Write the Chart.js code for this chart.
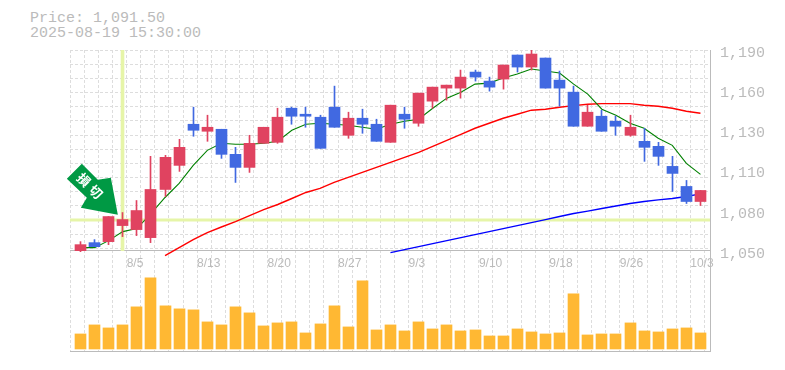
<!DOCTYPE html>
<html>
<head>
<meta charset="utf-8">
<title>Price chart</title>
<script src="https://cdn.jsdelivr.net/npm/chart.js@4"></script>
<style>
  html, body { margin: 0; padding: 0; background: #fff; }
  #wrap { position: relative; width: 785px; height: 370px; overflow: hidden; }
  #head { position: absolute; left: 30px; top: 11px; font: 15px/15px "Liberation Mono", monospace; color: #bbb; white-space: pre; }
  canvas { position: absolute; left: 0; top: 0; }
</style>
</head>
<body>
<div id="wrap">
  <div id="head">Price: 1,091.50
2025-08-19 15:30:00</div>
  <canvas id="chart" width="785" height="370"></canvas>
</div>
<script>
// Values
const opens = [1050, 1055.6, 1056.3, 1067.5, 1064.7, 1059.1, 1092.7, 1109.5, 1138.2, 1133.3, 1134.7, 1117.2, 1108.1, 1124.9, 1125.6, 1149.4, 1145.2, 1143.1, 1150.1, 1130.5, 1142.4, 1138.2, 1125.6, 1145.2, 1138.9, 1154.3, 1163.4, 1163.4, 1174.6, 1168.3, 1169.7, 1186.5, 1178.1, 1184.4, 1169, 1160.6, 1136.8, 1143.8, 1140.3, 1130.5, 1126.3, 1122.8, 1108.8, 1094.8, 1084.3];
const closes = [1054.2, 1052.8, 1073.8, 1071.7, 1078, 1092.7, 1115.1, 1122.1, 1134, 1136.1, 1117.2, 1108.1, 1124.9, 1136.1, 1143.1, 1143.8, 1143.8, 1121.4, 1136.1, 1142.4, 1138.2, 1126.3, 1151.5, 1141.7, 1159.9, 1164.1, 1165.5, 1171.1, 1171.1, 1164.1, 1179.5, 1178.1, 1187.2, 1163.4, 1163.4, 1136.8, 1146.6, 1133.3, 1136.8, 1136.1, 1122.1, 1115.8, 1103.9, 1084.3, 1092];
const highs = [1056.3, 1057.7, 1073.8, 1076.6, 1085, 1115.8, 1116.5, 1127.7, 1150.1, 1144.5, 1134.7, 1122.1, 1130.5, 1136.1, 1149.4, 1150.1, 1150.1, 1144.5, 1164.8, 1146.6, 1148.7, 1141.7, 1151.5, 1150.1, 1159.9, 1164.1, 1165.5, 1176, 1176, 1171.1, 1179.5, 1186.5, 1190, 1184.4, 1175.3, 1164.8, 1151.5, 1148, 1143.8, 1144.5, 1135.4, 1125.6, 1115.8, 1099, 1092];
const lows = [1049.3, 1052.8, 1054.2, 1059.8, 1060.5, 1055.6, 1087.8, 1105.3, 1129.8, 1126.3, 1114.4, 1097.6, 1104.6, 1124.9, 1124.9, 1138.2, 1136.1, 1121.4, 1136.1, 1128.4, 1131.9, 1126.3, 1125.6, 1135.4, 1136.8, 1149.4, 1155, 1156.4, 1168.3, 1161.3, 1162.7, 1174.6, 1176, 1163.4, 1150.8, 1136.8, 1136.8, 1133.3, 1130.5, 1129.8, 1112.3, 1109.5, 1091.3, 1082.9, 1081.5];
const volumes = [1500, 2400, 2100, 2400, 4200, 7100, 4300, 4000, 3900, 2700, 2400, 4200, 3600, 2300, 2600, 2700, 1600, 2500, 4300, 2200, 6800, 1900, 2400, 1800, 2700, 2000, 2400, 1800, 1900, 1300, 1300, 2000, 1700, 1500, 1600, 5500, 1400, 1500, 1500, 2600, 1800, 1700, 2000, 2100, 1600];
const maShort = [1052.1, 1052.1, 1057, 1063.3, 1065.4, 1075.9, 1087.1, 1096.9, 1109.5, 1120, 1124.9, 1124.2, 1124.2, 1124.9, 1126.3, 1134, 1138.2, 1138.9, 1138.2, 1137.5, 1136.1, 1134.7, 1138.2, 1140.3, 1141.7, 1149.4, 1156.4, 1160.6, 1166.2, 1166.9, 1170.4, 1173.2, 1176.7, 1175.3, 1173.9, 1166.2, 1159.2, 1148.7, 1144.5, 1138.9, 1135.4, 1128.4, 1123.5, 1110.9, 1103.2];
const maMid = [null, null, null, null, null, null, 1046.5, 1052.1, 1057.7, 1062.6, 1066.5, 1070.3, 1074.5, 1078.7, 1082.2, 1086.4, 1090.6, 1093.4, 1097.6, 1101.1, 1104.6, 1108.1, 1111.6, 1115.1, 1118.6, 1122.8, 1127, 1131.2, 1135.4, 1138.9, 1142.4, 1145.2, 1148, 1148.7, 1150.1, 1151.2, 1152.2, 1152.6, 1152.6, 1152.6, 1151.5, 1150.8, 1149.4, 1147.3, 1145.9];
const maLong = [null, null, null, null, null, null, null, null, null, null, null, null, null, null, null, null, null, null, null, null, null, null, 1048.6, 1050.7, 1052.8, 1054.9, 1057, 1059.1, 1061.2, 1063.3, 1065.4, 1067.5, 1069.6, 1071.7, 1073.8, 1075.9, 1077.6, 1079.4, 1081.2, 1082.9, 1084.3, 1085.4, 1086.4, 1087.8, 1089.6];

const dateLabels = ['8/5', '8/13', '8/20', '8/27', '9/3', '9/10', '9/18', '9/26', '10/3'];
const gridPrices = [1189.8, 1179.9, 1170.1, 1160.2, 1150.3, 1140.5, 1130.6, 1120.8, 1110.9, 1101, 1091.2, 1081.3, 1071.5, 1061.6, 1051.7];
const priceTicks = [1190, 1162, 1134, 1106, 1078, 1050];
const priceTickLabels = ['1,190', '1,160', '1,130', '1,110', '1,080', '1,050'];

const crossIndex = 3;
const crossPrice = 1071.35;
const arrowIndex = 2.65;
const arrowPrice = 1075;

const UP = '#e04360';
const DOWN = '#4169e1';
const VOL = '#ffb833';
const CROSS = '#e6f5a8';
const GRID = '#dddddd';
const AXIS = '#bbbbbb';
const TEXT = '#bbbbbb';
const DASH = [3, 2];

// x runs over candle indexes, y covers both the price part and the volume part
const xMin = -0.745, xMax = 44.677;
const priceMin = 980, priceMax = 1190;
const volMin = -200, volMax = 29800;
const LABEL_DROP = 2.1; // price labels sit 3px under their value

const idx = opens.map((_, i) => i);
const pts = arr => arr.map((v, i) => ({ x: i, y: v }));

// bars land on whole pixels like the reference
const snapBars = {
  id: 'snapBars',
  afterDatasetsUpdate(chart) {
    chart.data.datasets.forEach((ds, i) => {
      if (ds.type !== 'bar') return;
      chart.getDatasetMeta(i).data.forEach(el => { el.x = Math.round(el.x - 0.5) + 0.5; });
    });
  }
};

// green arrow pointing at the marked candle
const arrowMark = {
  id: 'arrowMark',
  afterDatasetsDraw(chart) {
    const tx = chart.scales.x.getPixelForValue(arrowIndex);
    const ty = chart.scales.y.getPixelForValue(arrowPrice);
    const shape = [[0, 0], [-7, -37], [-20, -35], [-36, -51], [-51, -36], [-31, -17], [-37, -7]];
    const ctx = chart.ctx;
    ctx.save();
    ctx.translate(tx, ty);
    ctx.fillStyle = '#009944';
    ctx.beginPath();
    shape.forEach((p, i) => (i ? ctx.lineTo(p[0], p[1]) : ctx.moveTo(p[0], p[1])));
    ctx.closePath();
    ctx.fill();
    ctx.translate(-28, -29);
    ctx.rotate(Math.PI / 4);
    ctx.fillStyle = '#fff';
    ctx.font = 'bold 13px "Noto Sans CJK JP"';
    ctx.letterSpacing = '4px';
    ctx.textAlign = 'center';
    ctx.textBaseline = 'middle';
    ctx.fillText('損切', 2, 0);
    ctx.restore();
  }
};

new Chart(document.getElementById('chart'), {
  data: {
    datasets: [
      // candles
      { type: 'bar', data: idx.map(i => ({ x: i, y: [opens[i], closes[i]] })), yAxisID: 'y',
        backgroundColor: idx.map(i => (closes[i] >= opens[i] ? UP : DOWN)), barThickness: 11, grouped: false, order: 1 },
      { type: 'bar', data: idx.map(i => ({ x: i, y: [lows[i], highs[i]] })), yAxisID: 'y',
        backgroundColor: idx.map(i => (closes[i] >= opens[i] ? UP : DOWN)), barThickness: 1, grouped: false, order: 2 },
      // moving averages
      { type: 'line', data: pts(maShort), yAxisID: 'y', borderColor: '#008000', borderWidth: 1.1, pointRadius: 0, order: 3 },
      { type: 'line', data: pts(maMid), yAxisID: 'y', borderColor: '#ff0000', borderWidth: 1.4, pointRadius: 0, order: 3 },
      { type: 'line', data: pts(maLong), yAxisID: 'y', borderColor: '#0000ff', borderWidth: 1.4, pointRadius: 0, order: 3 },
      // crosshair
      { type: 'line', data: [{ x: xMin, y: crossPrice }, { x: xMax, y: crossPrice }], yAxisID: 'y',
        borderColor: CROSS, borderWidth: 3, pointRadius: 0, order: 4 },
      { type: 'bar', data: [{ x: crossIndex, y: [1050, 1190] }], yAxisID: 'y',
        backgroundColor: CROSS, barThickness: 3, grouped: false, order: 4 },
      // volume
      { type: 'bar', data: pts(volumes), yAxisID: 'vol', backgroundColor: VOL, barThickness: 11, grouped: false, order: 5 }
    ]
  },
  options: {
    responsive: false,
    animation: false,
    layout: { padding: { left: 70, top: 50, bottom: 19, right: 0 } },
    plugins: { legend: { display: false }, tooltip: { enabled: false }, title: { display: false } },
    scales: {
      x: {
        type: 'linear', min: xMin, max: xMax, offset: false, position: { y: 1050 },
        afterBuildTicks: s => { s.ticks = Array.from({ length: 46 }, (_, k) => ({ value: k - 0.724 })); },
        grid: { color: GRID, drawTicks: false, offset: false },
        border: { color: AXIS, dash: DASH },
        ticks: {
          autoSkip: false, maxRotation: 0, minRotation: 0, align: 'start', padding: 6, color: TEXT,
          font: { family: '"Liberation Sans"', size: 12 },
          callback: (v, i) => ((i - 4) % 5 === 0 ? dateLabels[(i - 4) / 5] : '')
        }
      },
      xBottom: {
        type: 'linear', min: xMin, max: xMax, offset: false, position: 'bottom',
        grid: { display: false, drawTicks: false, offset: false }, border: { color: AXIS },
        ticks: { display: false }
      },
      y: {
        type: 'linear', min: priceMin, max: priceMax, position: 'right',
        afterBuildTicks: s => { s.ticks = gridPrices.map(v => ({ value: v })); },
        afterFit: s => { s.width = 0; },
        grid: { color: GRID, drawTicks: false }, border: { display: false, dash: DASH },
        ticks: { display: false, autoSkip: false }
      },
      yLabels: {
        type: 'linear', min: priceMin + LABEL_DROP, max: priceMax + LABEL_DROP, position: 'right',
        afterBuildTicks: s => { s.ticks = priceTicks.map(v => ({ value: v })); },
        afterFit: s => { s.width = 75; },
        grid: { display: false, drawTicks: false }, border: { color: AXIS },
        ticks: {
          autoSkip: false, padding: 10, color: TEXT,
          font: { family: '"Liberation Mono"', size: 15 },
          callback: (v, i) => priceTickLabels[i]
        }
      },
      vol: { type: 'linear', display: false, min: volMin, max: volMax }
    }
  },
  plugins: [snapBars, arrowMark]
});
</script>
</body>
</html>
